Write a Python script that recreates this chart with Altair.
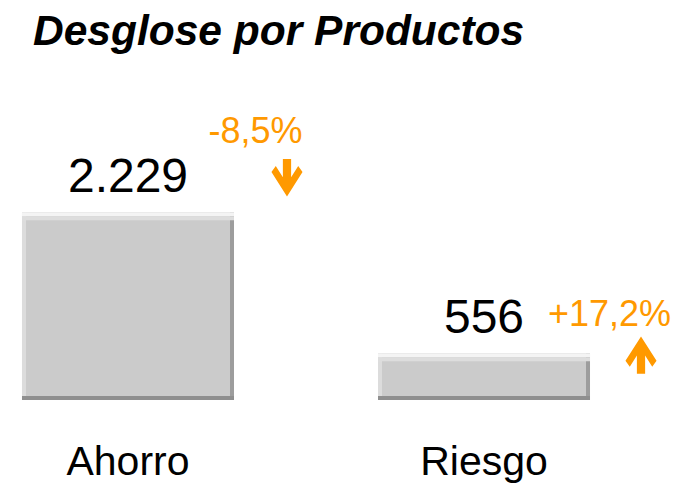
import altair as alt
import pandas as pd

# ---- data ----
categories = ["Ahorro", "Riesgo"]
values = [2229, 556]
changes = [-8.5, 17.2]

df = pd.DataFrame({"producto": categories, "valor": values, "cambio": changes})

ORANGE = "#FF9900"
FONT = "Liberation Sans"
PLOT_W = 596
PLOT_H = 337
BAR_W = 212

DOWN = "M-0.22,-1 L0.22,-1 L0.22,-0.02 L0.6,-0.62 L0.83,-0.3 L0,1 L-0.83,-0.3 L-0.6,-0.62 L-0.22,-0.02 Z"
UP = "M-0.22,1 L0.22,1 L0.22,0.02 L0.6,0.62 L0.83,0.3 L0,-1 L-0.83,0.3 L-0.6,0.62 L-0.22,0.02 Z"
# thin full-width strip (4px tall once scaled to the bar width)
h = 2 / (BAR_W / 2)
STRIP = f"M-1,-{h:.4f} L1,-{h:.4f} L1,{h:.4f} L-1,{h:.4f} Z"
STRIP_SIZE = BAR_W ** 2

x = alt.X(
    "producto:N",
    sort=categories,
    scale=alt.Scale(paddingInner=0.4045, paddingOuter=0.0393),
    axis=alt.Axis(title=None, ticks=False, domain=False, grid=False,
                  labelFontSize=41, labelFont=FONT, labelColor="black",
                  labelPadding=42, labelAngle=0),
)
y = alt.Y("valor:Q", scale=alt.Scale(domain=[0, 4000], nice=False, zero=True), axis=None)

base = alt.Chart(df).transform_calculate(
    label="replace(format(datum.valor, ','), ',', '.')",
    pct="(datum.cambio > 0 ? '+' : '-') + replace(format(abs(datum.cambio), '.1f'), '.', ',') + '%'",
)

# bevelled bar: dark body (right edge), light left edge, grey face, light top, dark bottom
shadow = base.mark_bar(color="#9d9d9d").encode(x=x, y=y)
highlight = base.mark_bar(color="#dcdcdc", width=BAR_W - 4, xOffset=-2).encode(x=x, y=y)
face = base.mark_bar(color="#cbcbcb", width=BAR_W - 8).encode(x=x, y=y)
top1 = base.mark_point(filled=True, shape=STRIP, size=STRIP_SIZE, color="#f4f4f4", opacity=1,
                       yOffset=2).encode(x=x, y=y)
top2 = base.mark_point(filled=True, shape=STRIP, size=STRIP_SIZE, color="#dddddd", opacity=1,
                       yOffset=6).encode(x=x, y=y)
bottom = base.mark_point(filled=True, shape=STRIP, size=STRIP_SIZE, color="#8f8f8f", opacity=1,
                         yOffset=-2).encode(x=x, y=alt.value(PLOT_H))

value_text = base.mark_text(fontSize=48, font=FONT, baseline="alphabetic", dy=-20, color="black").encode(
    x=x, y=y, text="label:N")

annot = {
    "Ahorro": dict(pct_dx=127.5, pct_dy=-69, arr_dx=159, arr_dy=-34.5),
    "Riesgo": dict(pct_dx=125.5, pct_dy=-27, arr_dx=157, arr_dy=2),
}

layers = [shadow, highlight, face, top1, top2, bottom, value_text]
for cat, chg in zip(categories, changes):
    a = annot[cat]
    sub = base.transform_filter(alt.datum.producto == cat)
    layers.append(
        sub.mark_text(fontSize=36, font=FONT, baseline="alphabetic", color=ORANGE,
                      dx=a["pct_dx"], dy=a["pct_dy"]).encode(x=x, y=y, text="pct:N")
    )
    layers.append(
        sub.mark_point(filled=True, size=1400, color=ORANGE, opacity=1,
                       shape=UP if chg > 0 else DOWN,
                       xOffset=a["arr_dx"], yOffset=a["arr_dy"]).encode(x=x, y=y)
    )

chart = alt.layer(*layers).properties(
    width=PLOT_W,
    height=PLOT_H,
    title=alt.Title("Desglose por Productos", anchor="start", fontSize=42.5, font=FONT,
                    fontStyle="italic", fontWeight="bold", color="black", dx=25, offset=10),
    autosize=alt.AutoSizeParams(type="none"),
    padding={"left": 0, "top": 55, "right": 72, "bottom": 85},
).configure_view(stroke=None)

chart.save("out.html", embed_options={"renderer": "svg", "actions": False})
